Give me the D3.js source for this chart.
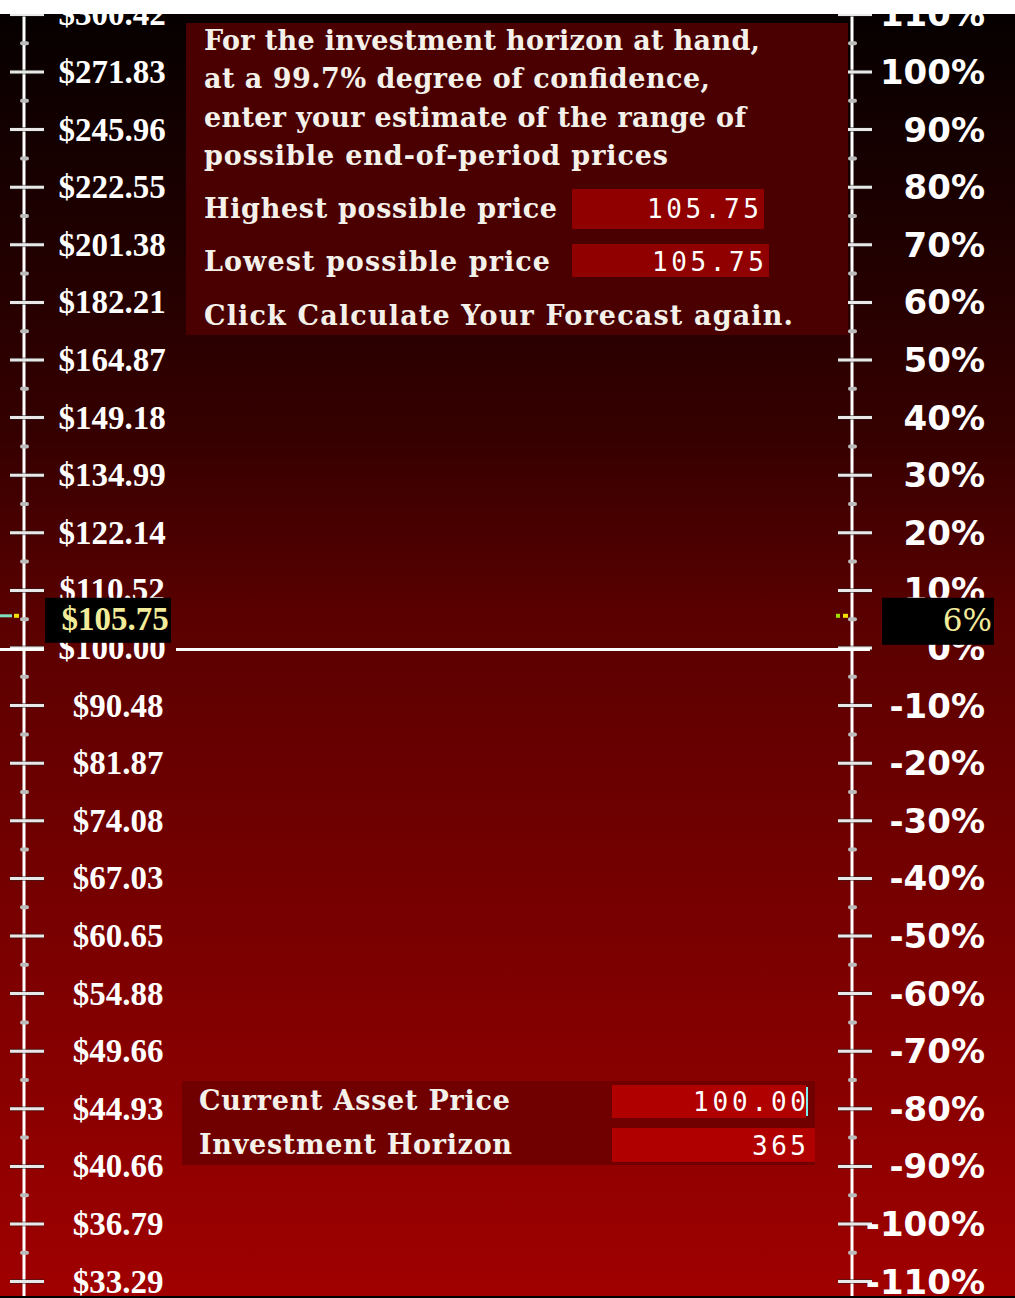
<!DOCTYPE html>
<html><head><meta charset="utf-8">
<script src="https://cdn.jsdelivr.net/npm/d3@7"></script>
<style>html,body{margin:0;padding:0;background:#fff;overflow:hidden}</style>
</head><body>
<script>
// ---- data ----
const pctTicks = [110,100,90,80,70,60,50,40,30,20,10,0,-10,-20,-30,-40,-50,-60,-70,-80,-90,-100,-110];
const priceLabels = ["$300.42","$271.83","$245.96","$222.55","$201.38","$182.21","$164.87","$149.18","$134.99","$122.14","$110.52","$100.00","$90.48","$81.87","$74.08","$67.03","$60.65","$54.88","$49.66","$44.93","$40.66","$36.79","$33.29"];
const pctLabels = ["110%","100%","90%","80%","70%","60%","50%","40%","30%","20%","10%","0%","-10%","-20%","-30%","-40%","-50%","-60%","-70%","-80%","-90%","-100%","-110%"];
const basePct = 0;
const forecastPct = 5.59;
const forecastPriceLabel = "$105.75";
const forecastPctLabel = "6%";
const promptLines = ["For the investment horizon at hand,","at a 99.7% degree of confidence,","enter your estimate of the range of","possible end-of-period prices"];
const fieldLabels = ["Highest possible price","Lowest possible price"];
const fieldValues = ["105.75","105.75"];
const promptFooter = "Click Calculate Your Forecast again.";
const inputLabels = ["Current Asset Price","Investment Horizon"];
const inputValues = ["100.00","365"];

const W = 1015, H = 1298;
const svg = d3.select("body").append("svg").attr("width", W).attr("height", H);
const defs = svg.append("defs");
const grad = defs.append("linearGradient").attr("id","bg").attr("x1",0).attr("y1",0).attr("x2",0).attr("y2",1);
[[0,"#060000"],[0.33,"#360000"],[0.47,"#5a0000"],[0.83,"#880000"],[1,"#a00000"]].forEach(s=>grad.append("stop").attr("offset",s[0]).attr("stop-color",s[1]));

svg.append("rect").attr("x",0).attr("y",14).attr("width",W).attr("height",1282).attr("fill","url(#bg)");

const y = d3.scaleLinear().domain([110,-110]).range([14.4,1281.6]);
const minor = d3.range(-105, 106, 10);

// axes lines
const axes = [{x:24, t0:10, t1:44}, {x:852, t0:838, t1:872}];
axes.forEach(a=>{
  const g = svg.append("g");
  g.append("line").attr("x1",a.x).attr("x2",a.x).attr("y1",14).attr("y2",1296).attr("stroke","#fff").attr("stroke-width",3);
  g.selectAll(".maj").data(pctTicks).join("line")
    .attr("x1",a.t0).attr("x2",a.t1).attr("y1",d=>y(d)).attr("y2",d=>y(d))
    .attr("stroke","#222").attr("stroke-width",5).attr("stroke-opacity",0.5);
  g.selectAll(".maj2").data(pctTicks).join("line")
    .attr("x1",a.t0).attr("x2",a.t1).attr("y1",d=>y(d)).attr("y2",d=>y(d))
    .attr("stroke","#e8e8e8").attr("stroke-width",3);
  g.selectAll(".min").data(minor).join("line")
    .attr("x1",a.x-2).attr("x2",a.x+3).attr("y1",d=>y(d)).attr("y2",d=>y(d))
    .attr("stroke","#bbb").attr("stroke-width",4).attr("stroke-linecap","round");
});

// base line at 0%
svg.append("line").attr("x1",0).attr("x2",44).attr("y1",y(basePct)+1.5).attr("y2",y(basePct)+1.5).attr("stroke","#fff").attr("stroke-width",3);
svg.append("line").attr("x1",176).attr("x2",870).attr("y1",y(basePct)+1.5).attr("y2",y(basePct)+1.5).attr("stroke","#fff").attr("stroke-width",3);

// left labels
svg.append("g").selectAll("text").data(pctTicks).join("text")
  .attr("x",d=>d>=0?112:118).attr("y",d=>y(d)+11).attr("text-anchor","middle")
  .attr("font-family","'Liberation Serif', serif").attr("font-weight","bold").attr("font-size",33)
  .attr("fill","#fff").text((d,i)=>priceLabels[i]);
// right labels
svg.append("g").selectAll("text").data(pctTicks).join("text")
  .attr("x",985).attr("y",d=>y(d)+12).attr("text-anchor","end")
  .attr("font-family","'DejaVu Sans', sans-serif").attr("font-weight","bold").attr("font-size",34)
  .attr("fill","#fff").text((d,i)=>pctLabels[i]);

// forecast markers
const ym = y(forecastPct);
svg.append("rect").attr("x",45).attr("y",ym-18).attr("width",126).attr("height",45).attr("fill","#000");
svg.append("text").attr("x",115).attr("y",ym+14).attr("text-anchor","middle")
  .attr("font-family","'Liberation Serif', serif").attr("font-weight","bold").attr("font-size",33)
  .attr("fill","#f2eb9a").text(forecastPriceLabel);
svg.append("rect").attr("x",882).attr("y",ym-18).attr("width",112).attr("height",47).attr("fill","#000");
svg.append("text").attr("x",992).attr("y",ym+15).attr("text-anchor","end")
  .attr("font-family","'DejaVu Serif', serif").attr("font-size",31)
  .attr("fill","#f2eb9a").text(forecastPctLabel);
svg.append("rect").attr("x",0).attr("y",ym-1.5).attr("width",12).attr("height",3).attr("fill","#7fe0c0");
svg.append("rect").attr("x",14).attr("y",ym-2).attr("width",5).attr("height",4).attr("fill","#f0e000");
svg.append("rect").attr("x",836).attr("y",ym-2).attr("width",4).attr("height",4).attr("fill","#9ee000");
svg.append("rect").attr("x",843).attr("y",ym-2).attr("width",5).attr("height",4).attr("fill","#f0e000");

// prompt box
const slab = "'DejaVu Serif', serif";
const fs = 27;
svg.append("rect").attr("x",186).attr("y",23).attr("width",662).attr("height",312).attr("fill","#4a0000");
const lineWidths = [556,506,542,464];
svg.append("g").selectAll("text").data(promptLines).join("text")
  .attr("x",204).attr("y",(d,i)=>50+i*38.3)
  .attr("font-family",slab).attr("font-weight","bold").attr("font-size",fs).attr("fill","#f4f0ea")
  .attr("textLength",(d,i)=>lineWidths[i]).attr("lengthAdjust","spacing").text(d=>d);
const fieldY = [209, 262];
const fieldBoxes = [{x:572,y:189,w:192,h:40},{x:572,y:244,w:197,h:33}];
const fieldLW = [353,346];
fieldLabels.forEach((l,i)=>{
  svg.append("text").attr("x",204).attr("y",fieldY[i]+9)
    .attr("font-family",slab).attr("font-weight","bold").attr("font-size",fs).attr("fill","#f4f0ea")
    .attr("textLength",fieldLW[i]).attr("lengthAdjust","spacing").text(l);
  const b = fieldBoxes[i];
  svg.append("rect").attr("x",b.x).attr("y",b.y).attr("width",b.w).attr("height",b.h).attr("fill","#900000");
  svg.append("text").attr("x",b.x+b.w-5).attr("y",fieldY[i]+9).attr("text-anchor","end")
    .attr("font-family","'DejaVu Sans Mono', monospace").attr("font-size",26).attr("fill","#fff")
    .attr("textLength",112).attr("lengthAdjust","spacing").text(fieldValues[i]);
});
svg.append("text").attr("x",204).attr("y",325)
  .attr("font-family",slab).attr("font-weight","bold").attr("font-size",fs).attr("fill","#f4f0ea")
  .attr("textLength",589).attr("lengthAdjust","spacing").text(promptFooter);

// input box
svg.append("rect").attr("x",182).attr("y",1081).attr("width",633).attr("height",84).attr("fill","#700000");
const inY = [1101, 1145];
const inBoxes = [{x:612,y:1085,w:194,h:33},{x:612,y:1128,w:203,h:34}];
const inLW = [311,313];
const inVW = [113,54];
inputLabels.forEach((l,i)=>{
  svg.append("text").attr("x",199).attr("y",inY[i]+9)
    .attr("font-family",slab).attr("font-weight","bold").attr("font-size",fs).attr("fill","#f4f0ea")
    .attr("textLength",inLW[i]).attr("lengthAdjust","spacing").text(l);
  const b = inBoxes[i];
  svg.append("rect").attr("x",b.x).attr("y",b.y).attr("width",b.w).attr("height",b.h).attr("fill","#b00000");
  svg.append("text").attr("x",806).attr("y",inY[i]+10).attr("text-anchor","end")
    .attr("font-family","'DejaVu Sans Mono', monospace").attr("font-size",26).attr("fill","#fff")
    .attr("textLength",inVW[i]).attr("lengthAdjust","spacing").text(inputValues[i]);
});
svg.append("line").attr("x1",807).attr("x2",807).attr("y1",1087).attr("y2",1116).attr("stroke","#7ff0f0").attr("stroke-width",2);

// frame edges
svg.append("rect").attr("x",0).attr("y",0).attr("width",W).attr("height",14).attr("fill","#fff");
svg.append("rect").attr("x",0).attr("y",1296).attr("width",W).attr("height",2).attr("fill","#000");
</script>
</body></html>
